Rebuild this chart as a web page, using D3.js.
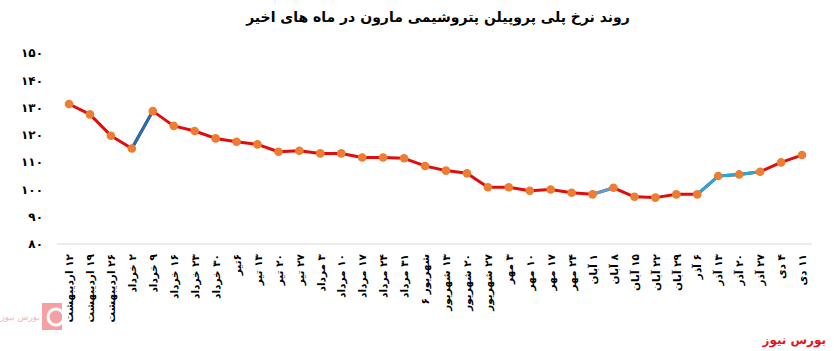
<!DOCTYPE html>
<html>
<head>
<meta charset="utf-8">
<script src="https://cdn.jsdelivr.net/npm/d3@7/dist/d3.min.js"></script>
<style>
  html, body { margin: 0; padding: 0; background: #fff; }
  svg { display: block; }
</style>
</head>
<body>
<svg id="chart" width="834" height="351"></svg>
<script>
const title = "روند نرخ پلی پروپیلن پتروشیمی مارون در ماه های اخیر";
const categories = [
  "۱۲ اردیبهشت", "۱۹ اردیبهشت", "۲۶ اردیبهشت", "۲ خرداد", "۹ خرداد", "۱۶ خرداد",
  "۲۳ خرداد", "۳۰ خرداد", "۶تیر", "۱۳ تیر", "۲۰ تیر", "۲۷ تیر",
  "۳ مرداد", "۱۰ مرداد", "۱۷ مرداد", "۲۴ مرداد", "۳۱ مرداد", "شهریور ۶",
  "۱۳ شهریور", "۲۰ شهریور", "۲۷ شهریور", "۳ مهر", "۱۰ مهر", "۱۷ مهر",
  "۲۴ مهر", "۱ آبان", "۸ آبان", "۱۵ آبان", "۲۲ آبان", "۲۹ آبان",
  "۶ آذر", "۱۳ آذر", "۲۰ آذر", "۲۷ آذر", "۴ دی", "۱۱ دی"
];
const values = [
  131.3, 127.5, 119.7, 115.0, 128.7, 123.3,
  121.4, 118.7, 117.5, 116.5, 113.8, 114.2,
  113.2, 113.2, 111.7, 111.7, 111.4, 108.6,
  106.9, 105.9, 100.8, 100.8, 99.5, 100.0,
  98.8, 98.2, 100.6, 97.3, 97.0, 98.2,
  98.2, 104.9, 105.5, 106.5, 109.9, 112.6
];
const yTicks = [80, 90, 100, 110, 120, 130, 140, 150];
const yTickLabels = ["۸۰", "۹۰", "۱۰۰", "۱۱۰", "۱۲۰", "۱۳۰", "۱۴۰", "۱۵۰"];
// segments (start index) drawn in other colours
const darkBlueSegments = [3];
const midBlueSegments = [25];
const cyanSegments = [30, 31, 32];
const sourceLabel = "بورس نیوز";

const svg = d3.select("#chart");
const FONT = "'DejaVu Sans', sans-serif";

const x = d3.scalePoint().domain(categories).range([69, 802]);
const y = d3.scaleLinear().domain([80, 150]).range([244, 53]);

// title
svg.append("text")
  .attr("x", 438).attr("y", 22)
  .attr("text-anchor", "middle")
  .attr("direction", "rtl")
  .attr("font-family", FONT).attr("font-weight", "bold")
  .attr("font-size", 14).attr("fill", "#000")
  .text(title);

// baseline axis
svg.append("line")
  .attr("x1", 57).attr("x2", 812)
  .attr("y1", y(80)).attr("y2", y(80))
  .attr("stroke", "#d9d9d9").attr("stroke-width", 1);

// y tick labels
const yAxis = d3.axisLeft(y).tickValues(yTicks)
  .tickFormat((d, i) => yTickLabels[i]).tickSize(0).tickPadding(0);
const yg = svg.append("g").attr("transform", "translate(43,0)").call(yAxis);
yg.select(".domain").remove();
yg.selectAll("text")
  .attr("font-family", FONT).attr("font-weight", "bold")
  .attr("font-size", 12).attr("fill", "#000");

// x tick labels rotated
const xAxis = d3.axisBottom(x).tickSize(0).tickPadding(0);
const xg = svg.append("g").attr("transform", "translate(0,254)").call(xAxis);
xg.select(".domain").remove();
xg.selectAll("text")
  .attr("font-family", FONT).attr("font-weight", "bold")
  .attr("font-size", 10.5).attr("fill", "#000")
  .attr("direction", "rtl")
  .style("direction", "rtl")
  .attr("text-anchor", "start")
  .attr("dy", "0.35em")
  .attr("transform", "rotate(-90)")
  .attr("x", 0).attr("y", 0);

// line segments
const line = d3.line().x(d => x(d[0])).y(d => y(d[1]));
const pts = categories.map((c, i) => [c, values[i]]);
svg.append("path")
  .attr("d", line(pts))
  .attr("fill", "none").attr("stroke", "#e00d0d")
  .attr("stroke-width", 3).attr("stroke-linejoin", "round");

function drawSegs(idx, color) {
  idx.forEach(i => {
    svg.append("path")
      .attr("d", line([pts[i], pts[i + 1]]))
      .attr("fill", "none").attr("stroke", color)
      .attr("stroke-width", 3).attr("stroke-linecap", "round");
  });
}
drawSegs(darkBlueSegments, "#1f6fb6");
drawSegs(midBlueSegments, "#5a9fd4");
drawSegs(cyanSegments, "#22a9e1");

// points
svg.append("g").selectAll("circle")
  .data(pts).join("circle")
  .attr("cx", d => x(d[0])).attr("cy", d => y(d[1]))
  .attr("r", 4.3).attr("fill", "#ed7d31");

// source label bottom right
svg.append("text")
  .attr("x", 826).attr("y", 344)
  .attr("text-anchor", "end")
  .attr("font-family", FONT).attr("font-weight", "bold")
  .attr("font-size", 12).attr("fill", "#e3141b")
  .text(sourceLabel);

// faint logo bottom left
const logo = svg.append("g").attr("opacity", 0.7);
logo.append("rect").attr("x", 42).attr("y", 303).attr("width", 20).attr("height", 27)
  .attr("fill", "#f0787e");
logo.append("circle").attr("cx", 56).attr("cy", 317).attr("r", 8)
  .attr("fill", "none").attr("stroke", "#fff").attr("stroke-width", 3);
logo.append("text")
  .attr("x", 40).attr("y", 320).attr("text-anchor", "end")
  .attr("font-family", FONT).attr("font-size", 9).attr("fill", "#f09aa0")
  .text(sourceLabel);
</script>
</body>
</html>
